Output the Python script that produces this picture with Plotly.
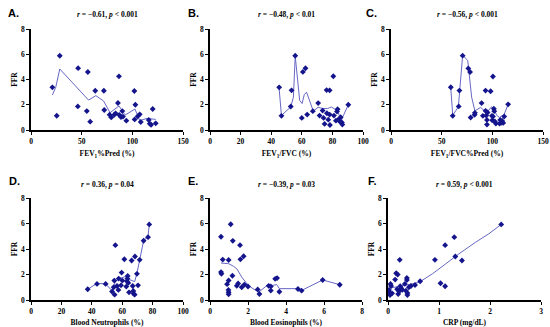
import plotly.graph_objects as go

# ---------------- data ----------------
ffr_label = "FFR"

# A. FEV1%Pred
a_x = [21.1, 25.4, 28.4, 46.5, 46.2, 56.1, 55.1, 58.4, 63.4, 71.9, 72.3, 77.6, 79.2, 82.2, 83.5,
       85.8, 86.8, 87.1, 88.8, 90.1, 90.8, 94.1, 102.0, 102.3, 103.0, 105.3, 107.3, 108.3,
       116.2, 117.2, 118.5, 120.1, 123.1]
a_y = [3.38, 1.13, 5.88, 4.90, 1.87, 4.59, 1.50, 0.66, 3.11, 3.11, 1.58, 1.21, 1.00, 1.21, 1.32,
       2.14, 4.25, 1.19, 1.03, 1.50, 1.06, 0.74, 3.09, 0.84, 2.00, 1.08, 1.24, 0.63,
       0.79, 0.50, 0.42, 1.66, 0.53]
a_fit_x = [21.1, 24.4, 28.4, 56.8, 64.0, 71.6, 78.0, 86.8, 93.0, 102.6, 107.3, 114.5, 123.1]
a_fit_y = [2.77, 3.38, 4.83, 2.37, 2.72, 2.30, 1.37, 1.90, 1.19, 1.66, 0.74, 0.92, 0.84]

# B. FEV1/FVC
b_x = [45.2, 46.7, 53.3, 52.8, 55.7, 60.0, 60.7, 62.4, 63.5, 67.2, 70.7, 71.6, 73.6, 74.2, 74.9,
       76.2, 76.4, 77.3, 78.2, 78.2, 78.4, 80.6, 81.0, 82.3, 83.0, 83.4, 83.8, 84.7, 85.4,
       86.2, 86.5, 90.4]
b_y = [3.38, 1.12, 3.14, 1.86, 5.88, 0.96, 4.60, 4.89, 1.22, 1.49, 2.13, 1.14, 1.54, 0.96, 0.48,
       3.16, 1.33, 0.82, 3.14, 1.22, 0.40, 4.26, 1.14, 0.74, 1.46, 1.65, 0.82, 0.69, 1.01,
       0.59, 0.43, 2.00]
b_fit_x = [45.2, 46.7, 52.8, 54.5, 55.7, 58.6, 60.2, 61.6, 63.1, 67.5, 70.7, 73.8, 76.9, 79.3,
           82.1, 83.8, 85.0, 86.0, 87.0, 90.4]
b_fit_y = [3.25, 1.15, 1.83, 2.60, 5.85, 2.35, 2.10, 2.80, 3.00, 1.50, 1.80, 1.70, 1.70, 1.82,
           1.62, 1.40, 0.95, 0.80, 1.10, 2.00]

# C. FEV1/FVC%Pred
c_x = [59.0, 60.9, 67.5, 66.8, 70.7, 76.3, 78.0, 78.6, 82.8, 82.5, 89.4, 90.7, 93.3, 93.3, 94.0,
       94.7, 94.7, 95.3, 98.3, 99.6, 99.9, 100.6, 100.6, 101.5, 101.9, 102.5, 103.5, 107.1,
       107.8, 108.7, 109.7, 110.7, 111.7, 115.6]
c_y = [3.39, 1.12, 3.12, 1.87, 5.89, 4.88, 4.59, 0.99, 1.36, 1.20, 2.13, 1.12, 3.12, 1.52, 1.15,
       0.80, 0.43, 1.39, 3.07, 1.12, 0.77, 4.24, 1.07, 1.68, 1.49, 0.67, 0.51, 0.51,
       0.80, 0.56, 0.72, 0.56, 1.07, 2.03]
c_fit_x = [59.0, 60.9, 66.5, 67.8, 70.7, 75.7, 76.9, 79.6, 82.8, 88.4, 92.7, 96.0, 99.2, 101.9,
           104.2, 107.1, 109.1, 111.1, 115.6]
c_fit_y = [3.33, 1.17, 1.84, 3.33, 5.92, 5.52, 4.61, 2.59, 1.52, 1.79, 1.47, 1.52, 1.84, 1.65,
           1.17, 0.99, 1.12, 1.12, 2.03]

# D. Blood Neutrophils
d_x = [37.3, 43.4, 49.1, 53.3, 54.4, 54.8, 55.0, 55.5, 56.6, 57.5, 57.7, 59.2, 59.6, 60.1, 61.4,
       62.7, 63.2, 63.4, 63.6, 64.0, 64.5, 66.2, 66.9, 67.3, 67.5, 68.2, 68.4, 69.7, 70.4,
       71.5, 74.1, 77.0, 77.8]
d_y = [0.84, 1.26, 1.26, 0.66, 1.00, 1.52, 0.42, 4.30, 1.10, 0.79, 1.68, 1.15, 2.15, 1.52, 3.20,
       1.05, 1.47, 1.68, 1.89, 1.34, 0.60, 3.10, 1.10, 0.71, 0.50, 0.42, 3.41, 2.05, 1.15,
       3.15, 4.65, 4.93, 5.93]
d_fit_x = [37.3, 43.4, 49.1, 53.3, 55.5, 58.8, 62.1, 64.3, 66.5, 68.2, 69.7, 71.5, 74.1, 77.0, 77.8]
d_fit_y = [0.84, 1.31, 1.26, 0.73, 1.44, 1.71, 1.84, 1.63, 1.52, 1.44, 2.10, 3.15, 4.65, 4.99, 5.91]

# E. Blood Eosinophils
e_x = [0.58, 0.58, 0.60, 0.67, 0.90, 0.98, 0.98, 0.97, 0.98, 0.98, 1.09, 1.18, 1.20, 1.41, 1.48,
       1.58, 1.60, 1.67, 1.77, 1.81, 2.00, 2.51, 2.60, 3.09, 3.20, 3.20, 3.43, 3.53, 3.65,
       4.63, 4.82, 5.93, 6.83]
e_y = [4.96, 2.19, 2.06, 3.17, 1.24, 3.14, 1.53, 0.79, 0.61, 0.45, 5.94, 1.90, 4.64, 1.11, 1.29,
       4.30, 3.19, 1.00, 3.43, 1.21, 1.06, 0.82, 0.47, 1.11, 1.06, 0.74, 1.66, 1.72, 0.65,
       0.86, 0.73, 1.57, 1.20]
e_fit_x = [0.58, 0.98, 1.24, 1.41, 1.67, 2.02, 2.37, 2.60, 3.06, 3.25, 3.51, 3.65, 4.63, 4.82, 5.93, 6.83]
e_fit_y = [2.90, 2.85, 2.64, 2.45, 1.80, 1.13, 0.79, 0.66, 1.21, 1.13, 1.21, 0.89, 0.89, 0.75, 1.57, 1.20]

# F. CRP
f_x = [0.02, 0.03, 0.04, 0.05, 0.06, 0.08, 0.14, 0.16, 0.19, 0.18, 0.20, 0.22, 0.23, 0.24, 0.26,
       0.28, 0.33, 0.35, 0.37, 0.37, 0.38, 0.38, 0.41, 0.45, 0.53, 0.63, 0.92, 1.03, 1.12,
       1.12, 1.30, 1.32, 1.45, 2.22]
f_y = [0.79, 0.60, 0.39, 1.26, 1.10, 0.52, 1.60, 2.10, 2.00, 0.84, 0.47, 0.68, 3.15, 1.08, 0.92,
       0.79, 1.26, 0.73, 1.57, 1.73, 0.55, 0.39, 1.00, 1.10, 1.18, 1.47, 3.15, 1.31, 4.30,
       1.08, 4.93, 3.41, 3.10, 5.93]
f_fit_x = [0.02, 0.22, 0.41, 0.61, 0.87, 1.13, 1.39, 1.72, 1.98, 2.22]
f_fit_y = [0.92, 1.05, 1.21, 1.39, 2.05, 2.83, 3.62, 4.54, 5.20, 5.93]

panel_letters = ["A.", "B.", "C.", "D.", "E.", "F."]
panel_stats = ["<i>r</i> = −0.61, <i>p</i> &lt; 0.001",
               "<i>r</i> = −0.48, <i>p</i> &lt; 0.01",
               "<i>r</i> = −0.56, <i>p</i> &lt; 0.001",
               "<i>r</i> = 0.36, <i>p</i> = 0.04",
               "<i>r</i> = −0.39, <i>p</i> = 0.03",
               "<i>r</i> = 0.59, <i>p</i> &lt; 0.001"]
x_titles = ["FEV<sub>1</sub>%Pred (%)", "FEV<sub>1</sub>/FVC (%)", "FEV<sub>1</sub>/FVC%Pred (%)",
            "Blood Neutrophils (%)", "Blood Eosinophils (%)", "CRP (mg/dL)"]
x_ranges = [[0, 150], [0, 100], [0, 150], [0, 100], [0, 8], [0, 3]]
x_dticks = [50, 20, 50, 20, 2, 1]
y_range = [0, 8]
y_dtick = 2

# ---------------- layout ----------------
W, H = 550, 327
# pixel boxes of each plot area: (left, right, top, bottom)
boxes = [(31, 183, 29, 130), (210, 363, 29, 130), (391, 543, 29, 130),
         (31, 183, 198, 300), (210, 362, 198, 300), (388, 541, 198, 300)]
letter_pos = [(6, 13), (186, 13), (364, 13), (7, 181), (186, 181), (366, 181)]

MARK = "#14148c"
LINE = "#6767c6"
SERIF = "Liberation Serif"

fig = go.Figure()
series = [(a_x, a_y, a_fit_x, a_fit_y), (b_x, b_y, b_fit_x, b_fit_y), (c_x, c_y, c_fit_x, c_fit_y),
          (d_x, d_y, d_fit_x, d_fit_y), (e_x, e_y, e_fit_x, e_fit_y), (f_x, f_y, f_fit_x, f_fit_y)]

annotations = []
for i, (sx, sy, fx, fy) in enumerate(series):
    n = "" if i == 0 else str(i + 1)
    xa, ya = "x" + n, "y" + n
    fig.add_trace(go.Scatter(x=fx, y=fy, mode="lines", xaxis=xa, yaxis=ya,
                             line=dict(color=LINE, width=1), showlegend=False, hoverinfo="skip"))
    fig.add_trace(go.Scatter(x=sx, y=sy, mode="markers", xaxis=xa, yaxis=ya,
                             marker=dict(color=MARK, size=4.5, symbol="diamond"),
                             showlegend=False, cliponaxis=False))
    l, r, t, b = boxes[i]
    common = dict(showgrid=False, zeroline=False, showline=True, linecolor="black", linewidth=1.5,
                  ticks="outside", ticklen=3, tickwidth=1.2, tickcolor="black", automargin=False,
                  tickfont=dict(family=SERIF, size=7.5, color="black", weight="bold"))
    fig.update_layout(**{
        "xaxis" + n: dict(domain=[l / W, r / W], range=x_ranges[i], dtick=x_dticks[i], tick0=0,
                          anchor=ya,
                          title=dict(text=x_titles[i], standoff=6,
                                     font=dict(family=SERIF, size=7.5, color="black", weight="bold")),
                          **common),
        "yaxis" + n: dict(domain=[1 - b / H, 1 - t / H], range=y_range, dtick=y_dtick, tick0=0,
                          anchor=xa,
                          title=dict(text=ffr_label, standoff=2,
                                     font=dict(family=SERIF, size=7.5, color="black", weight="bold")),
                          **common),
    })
    annotations.append(dict(text=panel_stats[i], x=(l + r) / 2 / W, y=1 - (t - 14) / H,
                            xref="paper", yref="paper", showarrow=False,
                            xanchor="center", yanchor="middle",
                            font=dict(family=SERIF, size=7.5, color="black", weight="bold")))
    lx, ly = letter_pos[i]
    annotations.append(dict(text=panel_letters[i], x=lx / W, y=1 - ly / H,
                            xref="paper", yref="paper", showarrow=False,
                            xanchor="left", yanchor="middle",
                            font=dict(family="Liberation Sans", size=11, color="black", weight="bold")))

fig.update_layout(width=W, height=H, margin=dict(l=0, r=0, t=0, b=0),
                  paper_bgcolor="white", plot_bgcolor="white", annotations=annotations)

fig.write_html("out.html", config={"displayModeBar": False},
               post_script="document.body.style.margin='0';")
